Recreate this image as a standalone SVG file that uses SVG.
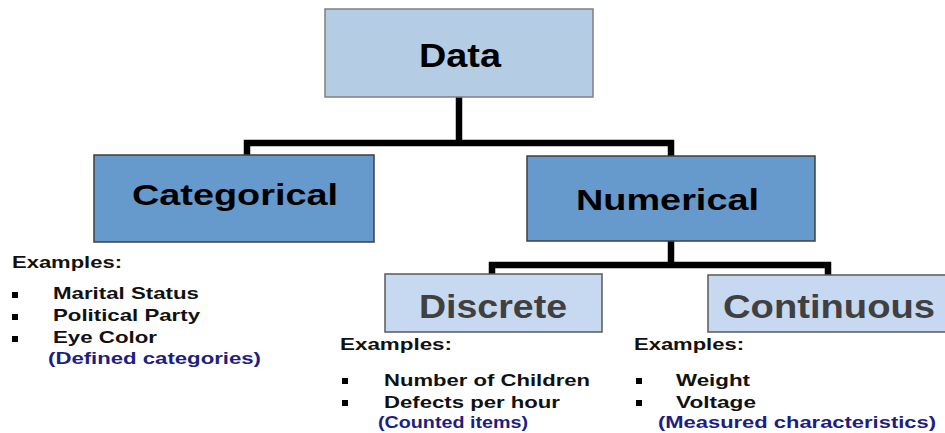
<svg xmlns="http://www.w3.org/2000/svg" width="945" height="433" viewBox="0 0 945 433">
<style>
.lvl0{fill:#B4CCE4;stroke:#7F7F7F;stroke-width:1.5}
.lvl1{fill:#6699CC;stroke:#3F3F3F;stroke-width:1.5}
.lvl2{fill:#C6D9F1;stroke:#595959;stroke-width:1.5}
.t{font-family:"Liberation Sans",Arial,sans-serif;font-weight:bold}
.big{fill:#000}
.gray{fill:#404040}
.ex{font-size:17px;fill:#111}
.note{font-size:17px;fill:#1E1E80}
.bul{fill:#000}
.conn{fill:none;stroke:#000;stroke-width:6.5;stroke-linejoin:miter}
</style>
<rect width="945" height="433" fill="#fff"/>
<g id="connectors">
<path class="conn" d="M459,97 V143 M247,156 V143 H671 V156"/>
<path class="conn" d="M671,241 V265 M492,274 V265 H828 V275"/>
</g>
<g id="data">
<rect class="lvl0" x="325" y="9" width="268" height="88"/>
<text class="t big" x="419" y="67" font-size="34" textLength="82" lengthAdjust="spacingAndGlyphs">Data</text>
</g>
<g id="categorical">
<rect class="lvl1" x="94" y="155" width="280" height="87"/>
<text class="t big" x="132" y="205" font-size="30" textLength="206" lengthAdjust="spacingAndGlyphs">Categorical</text>
</g>
<g id="numerical">
<rect class="lvl1" x="527" y="156" width="288" height="85"/>
<text class="t big" x="576" y="210" font-size="30" textLength="183" lengthAdjust="spacingAndGlyphs">Numerical</text>
</g>
<g id="discrete">
<rect class="lvl2" x="385" y="274" width="217" height="58"/>
<text class="t gray" x="419" y="318" font-size="33" textLength="148" lengthAdjust="spacingAndGlyphs">Discrete</text>
</g>
<g id="continuous">
<rect class="lvl2" x="708" y="275" width="245" height="57"/>
<text class="t gray" x="723" y="318" font-size="33" textLength="212" lengthAdjust="spacingAndGlyphs">Continuous</text>
</g>
<g id="categorical-examples">
<text class="t ex" x="12" y="268" textLength="110" lengthAdjust="spacingAndGlyphs">Examples:</text>
<rect class="bul" x="12" y="292" width="6" height="6"/>
<rect class="bul" x="12" y="314" width="6" height="6"/>
<rect class="bul" x="12" y="336" width="6" height="6"/>
<text class="t ex" x="53" y="299" textLength="146" lengthAdjust="spacingAndGlyphs">Marital Status</text>
<text class="t ex" x="53" y="321" textLength="147" lengthAdjust="spacingAndGlyphs">Political Party</text>
<text class="t ex" x="53" y="343" textLength="104" lengthAdjust="spacingAndGlyphs">Eye Color</text>
<text class="t note" x="48" y="364" textLength="213" lengthAdjust="spacingAndGlyphs">(Defined categories)</text>
</g>
<g id="discrete-examples">
<text class="t ex" x="340" y="350" textLength="112" lengthAdjust="spacingAndGlyphs">Examples:</text>
<rect class="bul" x="342" y="378" width="6" height="6"/>
<rect class="bul" x="342" y="400" width="6" height="6"/>
<text class="t ex" x="384" y="386" textLength="206" lengthAdjust="spacingAndGlyphs">Number of Children</text>
<text class="t ex" x="384" y="408" textLength="176" lengthAdjust="spacingAndGlyphs">Defects per hour</text>
<text class="t note" x="378" y="428" textLength="150" lengthAdjust="spacingAndGlyphs">(Counted items)</text>
</g>
<g id="continuous-examples">
<text class="t ex" x="634" y="350" textLength="110" lengthAdjust="spacingAndGlyphs">Examples:</text>
<rect class="bul" x="636" y="378" width="6" height="6"/>
<rect class="bul" x="636" y="400" width="6" height="6"/>
<text class="t ex" x="676" y="386" textLength="74" lengthAdjust="spacingAndGlyphs">Weight</text>
<text class="t ex" x="676" y="408" textLength="80" lengthAdjust="spacingAndGlyphs">Voltage</text>
<text class="t note" x="658" y="428" textLength="278" lengthAdjust="spacingAndGlyphs">(Measured characteristics)</text>
</g>
</svg>
